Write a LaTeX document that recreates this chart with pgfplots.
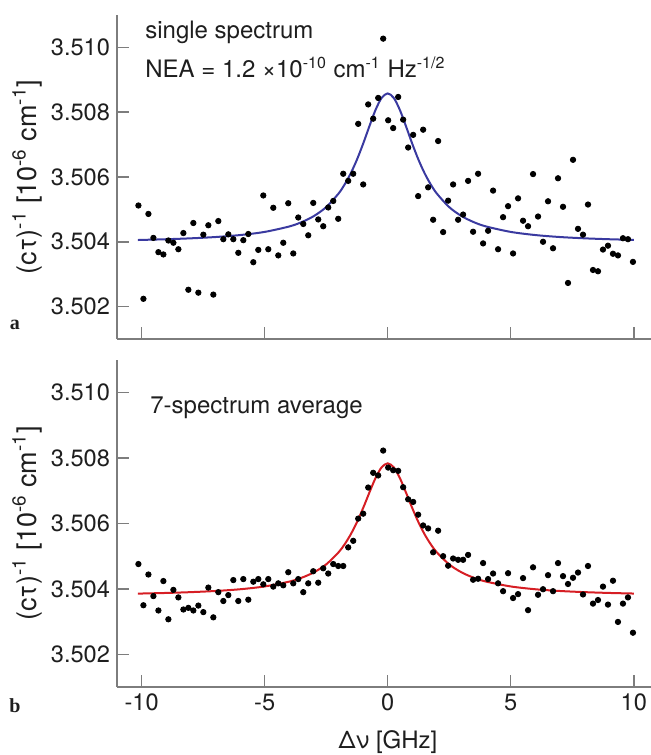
\documentclass[border=0pt]{standalone}
\usepackage{fontspec}
\setmainfont{TeX Gyre Heros}
\newfontfamily\serifb{Liberation Serif}
\usepackage{pgfplots}
\usepackage{pgfplotstable}
\pgfplotsset{compat=1.18}

\definecolor{fitblue}{RGB}{58,58,160}
\definecolor{fitred}{RGB}{214,30,36}
\definecolor{axgray}{RGB}{125,125,125}
\definecolor{txt}{RGB}{30,30,30}

\pgfplotstableread{
x y
-10.13 3.50512
-9.927 3.50224
-9.724 3.50486
-9.521 3.50412
-9.318 3.50368
-9.115 3.50361
-8.912 3.50404
-8.709 3.50397
-8.506 3.50377
-8.303 3.50427
-8.10 3.50252
-7.897 3.50458
-7.694 3.50243
-7.491 3.50422
-7.288 3.50451
-7.085 3.50237
-6.882 3.50464
-6.679 3.50408
-6.476 3.50423
-6.273 3.50408
-6.07 3.50366
-5.867 3.50405
-5.664 3.50424
-5.461 3.50337
-5.258 3.50375
-5.055 3.50543
-4.852 3.50377
-4.649 3.50505
-4.446 3.50358
-4.243 3.50397
-4.04 3.50519
-3.837 3.50364
-3.634 3.50475
-3.431 3.50455
-3.228 3.50420
-3.025 3.50520
-2.822 3.50469
-2.619 3.50448
-2.416 3.50506
-2.213 3.50526
-2.01 3.50471
-1.807 3.50610
-1.604 3.50588
-1.401 3.50610
-1.198 3.50764
-0.995 3.50577
-0.792 3.50824
-0.589 3.50780
-0.386 3.50844
-0.183 3.51027
0.02 3.50775
0.223 3.50751
0.426 3.50847
0.629 3.50777
0.832 3.50691
1.035 3.50730
1.238 3.50541
1.441 3.50746
1.644 3.50568
1.847 3.50468
2.05 3.50711
2.253 3.50430
2.456 3.50527
2.659 3.50577
2.862 3.50468
3.065 3.50484
3.268 3.50588
3.471 3.50431
3.674 3.50610
3.877 3.50395
4.08 3.50434
4.283 3.50558
4.486 3.50377
4.689 3.50476
4.892 3.50510
5.095 3.50364
5.298 3.50534
5.501 3.50465
5.704 3.50448
5.907 3.50609
6.11 3.50478
6.313 3.50400
6.516 3.50525
6.719 3.50380
6.922 3.50596
7.125 3.50508
7.328 3.50273
7.531 3.50653
7.734 3.50440
7.937 3.50422
8.14 3.50515
8.343 3.50313
8.546 3.50309
8.749 3.50376
8.952 3.50388
9.155 3.50363
9.358 3.50358
9.561 3.50411
9.764 3.50408
9.967 3.50338
}\singledata

\pgfplotstableread{
x y
-10.13 3.50476
-9.927 3.50350
-9.724 3.50444
-9.521 3.50378
-9.318 3.50334
-9.115 3.50424
-8.912 3.50307
-8.709 3.50397
-8.506 3.50374
-8.303 3.50337
-8.10 3.50342
-7.897 3.50334
-7.694 3.50349
-7.491 3.50329
-7.288 3.50404
-7.085 3.50313
-6.882 3.50390
-6.679 3.50363
-6.476 3.50381
-6.273 3.50427
-6.07 3.50363
-5.867 3.50430
-5.664 3.50367
-5.461 3.50422
-5.258 3.50430
-5.055 3.50414
-4.852 3.50430
-4.649 3.50407
-4.446 3.50417
-4.243 3.50411
-4.04 3.50451
-3.837 3.50417
-3.634 3.50430
-3.431 3.50390
-3.228 3.50417
-3.025 3.50454
-2.822 3.50419
-2.619 3.50463
-2.416 3.50447
-2.213 3.50476
-2.01 3.50470
-1.807 3.50470
-1.604 3.50527
-1.401 3.50547
-1.198 3.50615
-0.995 3.50630
-0.792 3.50710
-0.589 3.50755
-0.386 3.50747
-0.183 3.50823
0.02 3.50771
0.223 3.50763
0.426 3.50761
0.629 3.50711
0.832 3.50674
1.035 3.50666
1.238 3.50627
1.441 3.50594
1.644 3.50585
1.847 3.50512
2.05 3.50578
2.253 3.50500
2.456 3.50471
2.659 3.50493
2.862 3.50489
3.065 3.50489
3.268 3.50504
3.471 3.50428
3.674 3.50431
3.877 3.50479
4.08 3.50430
4.283 3.50447
4.486 3.50417
4.689 3.50393
4.892 3.50448
5.095 3.50372
5.298 3.50384
5.501 3.50433
5.704 3.50335
5.907 3.50466
6.11 3.50382
6.313 3.50399
6.516 3.50442
6.719 3.50393
6.922 3.50479
7.125 3.50439
7.328 3.50415
7.531 3.50434
7.734 3.50450
7.937 3.50383
8.14 3.50470
8.343 3.50355
8.546 3.50366
8.749 3.50407
8.952 3.50352
9.155 3.50425
9.358 3.50299
9.561 3.50355
9.764 3.50374
9.967 3.50266
}\avgdata

\pgfplotstableread{
x y
-10.15 3.504055
-9 3.504079
-8 3.504107
-7 3.504147
-6 3.504208
-5 3.504305
-4 3.504473
-3.5 3.504606
-3 3.504794
-2.5 3.505070
-2 3.505486
-1.75 3.505769
-1.5 3.506116
-1.25 3.506535
-1 3.507023
-0.75 3.507552
-0.5 3.508059
-0.25 3.508438
0 3.508580
0.25 3.508438
0.5 3.508059
0.75 3.507552
1 3.507023
1.25 3.506535
1.5 3.506116
1.75 3.505769
2 3.505486
2.5 3.505070
3 3.504794
3.5 3.504606
4 3.504473
5 3.504305
6 3.504208
7 3.504147
8 3.504107
9 3.504079
10 3.504059
}\singlefit

\pgfplotstableread{
x y
-10.15 3.503856
-9 3.503876
-8 3.503901
-7 3.503936
-6 3.503989
-5 3.504075
-4 3.504223
-3.5 3.504340
-3 3.504506
-2.5 3.504749
-2 3.505115
-1.75 3.505364
-1.5 3.505670
-1.25 3.506039
-1 3.506469
-0.75 3.506935
-0.5 3.507381
-0.25 3.507715
0 3.507840
0.25 3.507715
0.5 3.507381
0.75 3.506935
1 3.506469
1.25 3.506039
1.5 3.505670
1.75 3.505364
2 3.505115
2.5 3.504749
3 3.504506
3.5 3.504340
4 3.504223
5 3.504075
6 3.503989
7 3.503936
8 3.503901
9 3.503876
10 3.503858
}\avgfit

\tikzset{
  intext/.style={anchor=west, inner sep=0pt, text=txt, font=\fontsize{12}{14}\selectfont},
}
\pgfplotsset{
  panel/.style={
    scale only axis, width=267pt,
    xmin=-11, xmax=10.7, ymin=3.501, ymax=3.511,
    axis x line=bottom, axis y line=left,
    axis line style={-, axgray, line width=0.75pt},
    every tick/.style={axgray, line width=0.75pt},
    tick align=inside, major tick length=6pt,
    xtick={-10,-5,0,5,10},
    ytick={3.502,3.504,3.506,3.508,3.510},
    scaled y ticks=false, scaled x ticks=false,
    yticklabel style={/pgf/number format/fixed, /pgf/number format/precision=3, /pgf/number format/fixed zerofill},
    /pgf/number format/assume math mode=true,
    tick label style={font=\fontsize{11.8}{14}\selectfont, text=txt},
    label style={font=\fontsize{12}{14}\selectfont, text=txt},
    ylabel={(cτ)\textsuperscript{-1} [10\textsuperscript{-6} cm\textsuperscript{-1}]},
    ylabel style={at={(axis description cs:-0.1685,0.5)}, anchor=center, font=\fontsize{13.5}{16}\selectfont},
    clip=false,
  },
  dots/.style={only marks, mark=*, mark size=1.35pt, color=black, mark options={fill=black, draw=black}},
}

\begin{document}
\begin{tikzpicture}
\path[use as bounding box] (-58.5pt,-34pt) rectangle (267pt,343.5pt);

\begin{axis}[panel, height=162pt, at={(0,174pt)}, anchor=south west, xticklabels={}]
\addplot[fitblue, line width=1pt, smooth] table[x=x, y=y] {\singlefit};
\addplot[dots] table[x=x, y=y] {\singledata};
\node[intext] at (axis description cs:0.0524,0.9475) {single spectrum};
\node[intext] at (axis description cs:0.0524,0.8395) {NEA = 1.2 ×10\textsuperscript{-10} cm\textsuperscript{-1} Hz\textsuperscript{-1/2}};
\end{axis}

\begin{axis}[panel, height=163.5pt, at={(0,0)}, anchor=south west,
  xlabel={Δν [GHz]},
  xlabel style={at={(axis description cs:0.5075,-0.168)}, anchor=center}]
\addplot[fitred, line width=1pt, smooth] table[x=x, y=y] {\avgfit};
\addplot[dots] table[x=x, y=y] {\avgdata};
\node[intext] at (axis description cs:0.0618,0.853) {7-spectrum average};
\end{axis}

\node[font=\serifb\bfseries\fontsize{10}{12}\selectfont, text=txt] at (-51pt,181pt) {a};
\node[font=\serifb\bfseries\fontsize{10}{12}\selectfont, text=txt] at (-51pt,-9.5pt) {b};
\end{tikzpicture}
\end{document}
